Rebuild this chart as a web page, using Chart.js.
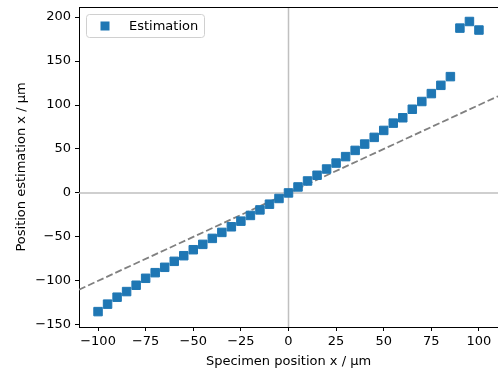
<!DOCTYPE html>
<html>
<head>
<meta charset="utf-8">
<script src="https://cdn.jsdelivr.net/npm/chart.js@4/dist/chart.umd.min.js"></script>
<style>
  html, body { margin: 0; padding: 0; background: #fff; }
  #wrap { width: 498px; height: 372px; }
</style>
</head>
<body>
<div id="wrap"><canvas id="chart" width="498" height="372"></canvas></div>
<script>
// specimen positions (x) and estimated positions (y)
const positions = [-100, -95, -90, -85, -80, -75, -70, -65, -60, -55, -50, -45, -40, -35, -30, -25, -20, -15, -10, -5,
                   0, 5, 10, 15, 20, 25, 30, 35, 40, 45, 50, 55, 60, 65, 70, 75, 80, 85, 90, 95, 100];
const estimations = [-135, -126.5, -118.6, -112.2, -105, -97.1, -90.7, -84.6, -77.8, -71.4, -64.6, -58.5, -51.7, -44.9, -38.5, -32.1, -25.6, -19.3, -12.8, -6.3,
                     0, 6.8, 13.6, 20.1, 27.2, 34, 41.3, 48.4, 55.6, 63.2, 71.1, 79.4, 85.5, 95.2, 104, 113, 122.4, 132.3, 187.5, 195, 185.3];
// ideal line y = x
const idealX = [-110, 110];
const xTicks = [-100, -75, -50, -25, 0, 25, 50, 75, 100];
const yTicks = [-150, -100, -50, 0, 50, 100, 150, 200];

const FONT = 'DejaVu Sans';
const blue = '#1f77b4';

const minus = v => String(v).replace('-', '\u2212');

function noPad(s) {
  s.paddingLeft = 0; s.paddingRight = 0; s.paddingTop = 0; s.paddingBottom = 0;
}

// zero lines, top spine and the legend box
const extras = {
  id: 'extras',
  beforeDatasetsDraw(chart) {
    const {ctx, chartArea: a, scales: {x, y}} = chart;
    ctx.save();
    ctx.strokeStyle = '#c0c0c0';
    ctx.lineWidth = 1.5;
    const x0 = x.getPixelForValue(0), y0 = y.getPixelForValue(0);
    ctx.beginPath();
    ctx.moveTo(x0, a.top); ctx.lineTo(x0, a.bottom);
    ctx.moveTo(a.left, y0); ctx.lineTo(a.right, y0);
    ctx.stroke();
    ctx.restore();
  },
  afterDraw(chart) {
    const {ctx, chartArea: a} = chart;
    ctx.save();
    ctx.strokeStyle = '#000';
    ctx.lineWidth = 1;
    ctx.beginPath();
    ctx.moveTo(a.left, a.top + 0.5); ctx.lineTo(a.right, a.top + 0.5);
    ctx.stroke();

    // legend
    const bx = 86, by = 14, bw = 118, bh = 23;
    ctx.fillStyle = 'rgba(255,255,255,0.8)';
    ctx.strokeStyle = '#d0d0d0';
    ctx.beginPath();
    ctx.roundRect(bx + 0.5, by + 0.5, bw, bh, 3);
    ctx.fill(); ctx.stroke();
    ctx.fillStyle = blue;
    ctx.fillRect(105 - 4.5, by + bh / 2 + 0.5 - 4.5, 9, 9);
    ctx.fillStyle = '#000';
    ctx.font = '13px ' + FONT;
    ctx.textBaseline = 'middle';
    ctx.fillText('Estimation', 129, by + bh / 2 + 1);
    ctx.restore();
  }
};

new Chart(document.getElementById('chart'), {
  type: 'scatter',
  data: {
    datasets: [{
      label: 'Estimation',
      data: positions.map((p, i) => ({x: p, y: estimations[i]})),
      pointStyle: 'rect',
      pointRadius: 6,
      pointBackgroundColor: blue,
      pointBorderColor: blue,
      pointBorderWidth: 1,
      order: 1
    }, {
      label: 'ideal',
      type: 'line',
      data: idealX.map(v => ({x: v, y: v})),
      borderColor: '#808080',
      borderWidth: 1.8,
      borderDash: [7, 3],
      pointRadius: 0,
      order: 2
    }]
  },
  options: {
    responsive: false,
    animation: false,
    layout: { autoPadding: false, padding: { top: 7, right: 0, left: 0, bottom: 0 } },
    plugins: { legend: { display: false }, tooltip: { enabled: false } },
    scales: {
      x: {
        type: 'linear',
        min: -110, max: 110,
        afterBuildTicks: s => { s.ticks = xTicks.map(v => ({value: v})); },
        afterFit: s => { s.height = 45; noPad(s); },
        grid: { drawOnChartArea: false, tickLength: 4, tickColor: '#000', tickWidth: 1 },
        border: { display: true, color: '#000', width: 1 },
        ticks: { color: '#000', font: { family: FONT, size: 13 }, padding: 3, maxRotation: 0, callback: v => minus(v) },
        title: { display: true, text: 'Specimen position x / \u00b5m', color: '#000', font: { family: FONT, size: 13 }, padding: { top: 0, bottom: 3 } }
      },
      y: {
        type: 'linear',
        min: -152.5, max: 211.5,
        afterBuildTicks: s => { s.ticks = yTicks.map(v => ({value: v})); },
        afterFit: s => { s.width = 79; noPad(s); },
        grid: { drawOnChartArea: false, tickLength: 4, tickColor: '#000', tickWidth: 1 },
        border: { display: true, color: '#000', width: 1 },
        ticks: { color: '#000', font: { family: FONT, size: 13 }, padding: 4, callback: v => minus(v) },
        title: { display: true, text: 'Position estimation x / \u00b5m', color: '#000', font: { family: FONT, size: 13 }, padding: { top: 14, bottom: 0 } }
      }
    }
  },
  plugins: [extras]
});
</script>
</body>
</html>
